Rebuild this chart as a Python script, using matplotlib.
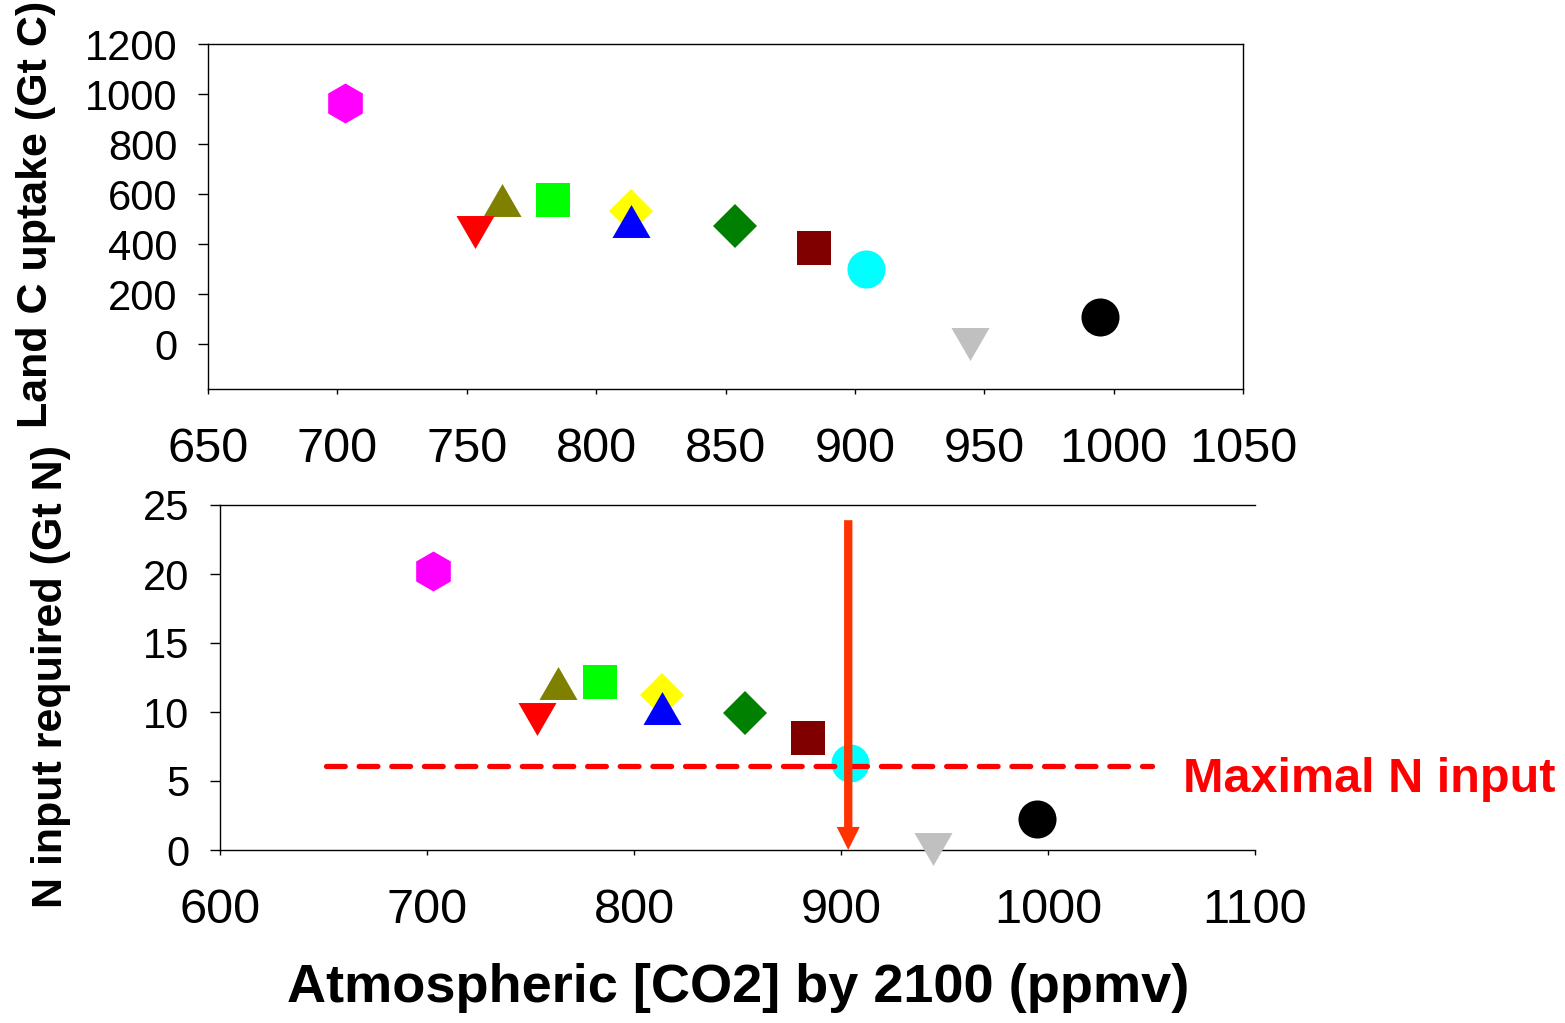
import matplotlib
matplotlib.use('Agg')
import matplotlib.pyplot as plt
from matplotlib.path import Path

plt.rcParams['font.family'] = ['Liberation Sans', 'DejaVu Sans']

# ---------------- data ----------------
colors = ['#FF00FF', '#808000', '#FF0000', '#00FF00', '#FFFF00', '#0000FF',
          '#008000', '#800000', '#00FFFF', '#C0C0C0', '#000000']
shapes = ['hex', 'tri_up', 'tri_down', 'square', 'diamond', 'tri_up',
          'diamond', 'square', 'circle', 'tri_down', 'circle']
co2_2100 = [702.9, 763.5, 753.3, 783.5, 813.6, 813.6, 853.8, 884.2, 904.2, 944.5, 994.7]
land_c_uptake = [963, 578, 449, 578, 533, 493, 471, 385, 301, 0, 107]
n_input_required = [20.2, 12.1, 9.5, 12.15, 11.2, 10.27, 9.93, 8.09, 6.3, 0.05, 2.26]

top_xticks = [650, 700, 750, 800, 850, 900, 950, 1000, 1050]
top_yticks = [0, 200, 400, 600, 800, 1000, 1200]
bot_xticks = [600, 700, 800, 900, 1000, 1100]
bot_yticks = [0, 5, 10, 15, 20, 25]

max_n_input = 6.1
max_n_xrange = [651, 1050]
arrow_x = 903.5
arrow_top = 23.9

# ---------------- marker styles ----------------
tri_up = Path([(0, 0.433), (-0.5, -0.433), (0.5, -0.433), (0, 0.433)],
              [Path.MOVETO, Path.LINETO, Path.LINETO, Path.CLOSEPOLY])
tri_down = Path([(0, -0.433), (-0.5, 0.433), (0.5, 0.433), (0, -0.433)],
                [Path.MOVETO, Path.LINETO, Path.LINETO, Path.CLOSEPOLY])
marker_map = {
    'hex': ('h', 28.8),
    'tri_up': (tri_up, 27.4),
    'tri_down': (tri_down, 27.4),
    'square': ('s', 23.8),
    'diamond': ('D', 22.3),
    'circle': ('o', 27.4),
}

W, H = 1565, 1023
fig = plt.figure(figsize=(W / 100, H / 100), dpi=100)

def px_axes(l, t, r, b):
    return fig.add_axes([l / W, 1 - b / H, (r - l) / W, (b - t) / H])

ax1 = px_axes(208, 44, 1243, 389)
ax2 = px_axes(220, 505, 1255, 850)

def draw_points(ax, xs, ys):
    for x, y, c, s in zip(xs, ys, colors, shapes):
        m, ms = marker_map[s]
        ax.plot([x], [y], linestyle='none', marker=m, ms=ms, mfc=c,
                mec='none', mew=0, clip_on=False, zorder=3)

draw_points(ax1, co2_2100, land_c_uptake)
draw_points(ax2, co2_2100, n_input_required)

# top axes
ax1.set_xlim(650, 1050)
ax1.set_ylim(-180, 1200)
ax1.set_xticks(top_xticks)
ax1.set_yticks(top_yticks)
ax1.tick_params(axis='x', direction='out', length=3.6, width=1, pad=23.5, labelsize=35)
ax1.tick_params(axis='y', direction='out', length=7.2, width=1, pad=15, labelsize=30)
for sp in ax1.spines.values():
    sp.set_linewidth(1)

# bottom axes
ax2.set_xlim(600, 1100)
ax2.set_ylim(0, 25)
ax2.set_xticks(bot_xticks)
ax2.set_yticks(bot_yticks)
ax2.tick_params(axis='x', direction='out', length=3.6, width=1, pad=23.5, labelsize=35)
ax2.tick_params(axis='y', direction='out', length=7.2, width=1, pad=15, labelsize=30)
ax2.spines['right'].set_visible(False)
for sp in ax2.spines.values():
    sp.set_linewidth(1)

# maximal N input dashed line
lw = 3.8
ax2.plot(max_n_xrange, [max_n_input, max_n_input], color='#FF0000', lw=lw,
         linestyle=(0, (13.5 / lw, 10 / lw)), dash_capstyle='round',
         clip_on=False, zorder=4)
ax2.text(1065, 4.2, 'Maximal N input', color='#FF0000', fontsize=35,
         fontweight='bold', va='baseline', ha='left', clip_on=False)

# arrow
ax2.annotate('', xy=(arrow_x, 0), xytext=(arrow_x, arrow_top),
             arrowprops=dict(arrowstyle='simple,head_length=1.66,head_width=1.66,tail_width=0.6',
                             mutation_scale=10, fc='#FF3300', ec='none',
                             shrinkA=0, shrinkB=0),
             annotation_clip=False, zorder=5)

# axis titles
fig.text(47 / W, 1 - 214 / H, 'Land C uptake (Gt C)', rotation=90,
         rotation_mode='anchor', ha='center', va='baseline',
         fontsize=31, fontweight='bold')
fig.text(62 / W, 1 - 677 / H, 'N input required (Gt N)', rotation=90,
         rotation_mode='anchor', ha='center', va='baseline',
         fontsize=31, fontweight='bold')
fig.text(738 / W, 1 - 1002 / H, 'Atmospheric [CO2] by 2100 (ppmv)',
         ha='center', va='baseline', fontsize=39, fontweight='bold')

fig.savefig('out.png', dpi=100)
